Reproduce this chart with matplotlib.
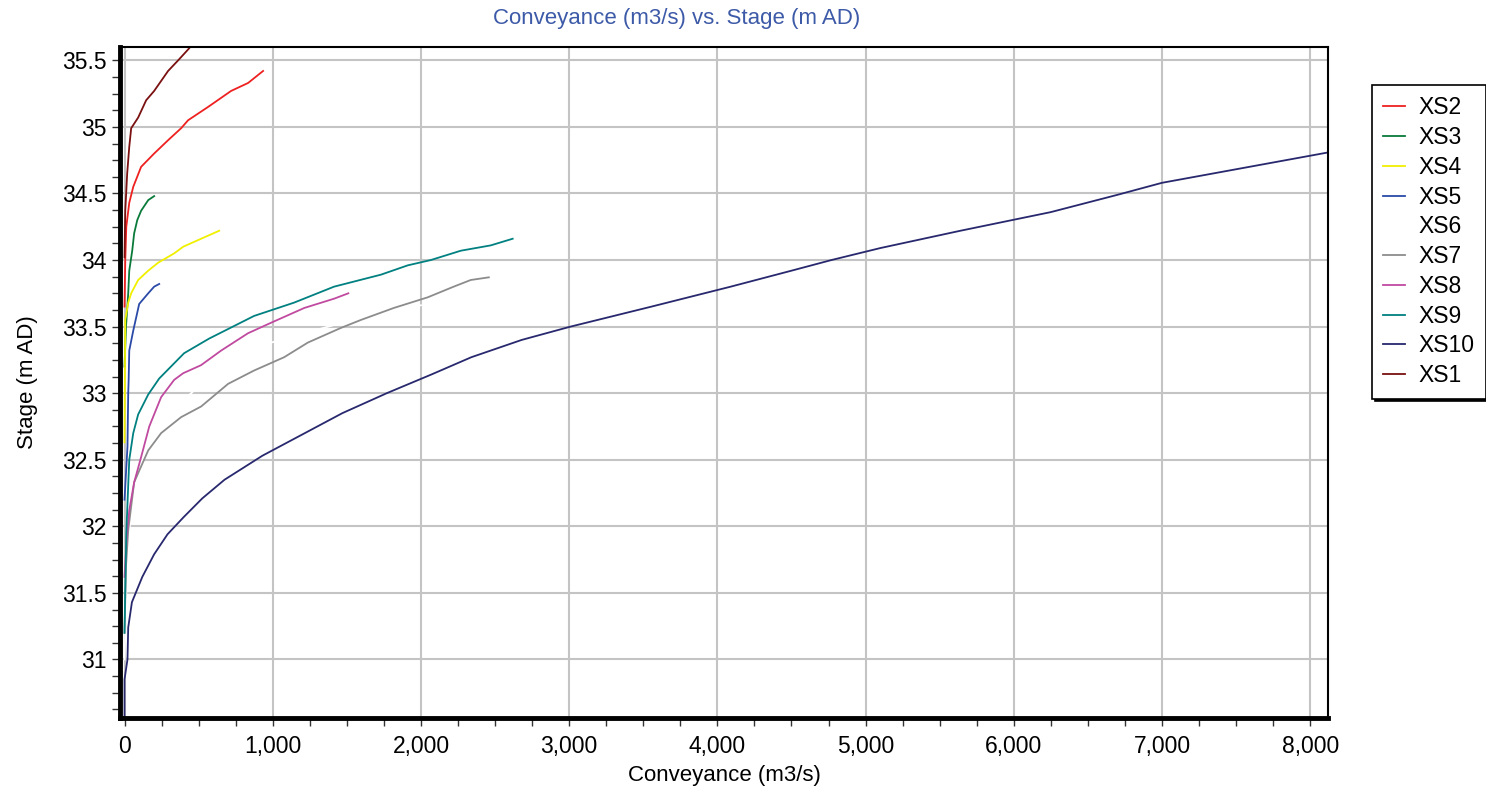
import matplotlib.pyplot as plt
from matplotlib.ticker import MultipleLocator, FuncFormatter

plt.rcParams['font.family'] = ['Liberation Sans', 'DejaVu Sans']

# conveyance (m3/s) and stage (m AD) per cross section
xs2_q = [0, 5, 12, 32, 59, 112, 200, 294, 382, 429, 564, 719, 834, 935]
xs2_h = [33.65, 34.0, 34.25, 34.43, 34.55, 34.7, 34.8, 34.9, 34.99, 35.05, 35.15, 35.27, 35.33, 35.42]

xs3_q = [0, 10, 25, 32, 52, 65, 86, 112, 160, 200]
xs3_h = [33.2, 33.5, 33.75, 33.92, 34.07, 34.2, 34.3, 34.37, 34.45, 34.48]

xs4_q = [0, 5, 25, 45, 92, 160, 227, 335, 396, 517, 639]
xs4_h = [32.63, 33.55, 33.68, 33.75, 33.85, 33.92, 33.98, 34.05, 34.1, 34.16, 34.22]

xs5_q = [0, 10, 20, 25, 28, 32, 59, 79, 99, 160, 200, 234]
xs5_h = [32.2, 32.4, 32.6, 33.0, 33.1, 33.32, 33.47, 33.57, 33.67, 33.75, 33.8, 33.82]

xs6_q = [0, 20, 60, 150, 300, 500, 750, 990, 1375, 1700, 2000]
xs6_h = [31.0, 31.8, 32.3, 32.6, 32.85, 33.05, 33.25, 33.38, 33.5, 33.6, 33.66]

xs7_q = [0, 10, 25, 45, 65, 112, 160, 247, 382, 517, 699, 874, 1077, 1237, 1460, 1595, 1817, 2046, 2221, 2336, 2458]
xs7_h = [31.2, 31.7, 31.97, 32.15, 32.33, 32.45, 32.57, 32.7, 32.82, 32.9, 33.07, 33.17, 33.27, 33.38, 33.49, 33.55, 33.64, 33.72, 33.8, 33.85, 33.87]

xs8_q = [0, 15, 32, 65, 112, 167, 247, 335, 396, 516, 652, 833, 991, 1213, 1415, 1510]
xs8_h = [31.62, 31.92, 32.12, 32.33, 32.52, 32.75, 32.97, 33.1, 33.15, 33.21, 33.32, 33.45, 33.53, 33.64, 33.71, 33.75]

xs9_q = [0, 12, 32, 59, 92, 160, 234, 402, 571, 874, 1144, 1414, 1730, 1911, 2067, 2269, 2471, 2619]
xs9_h = [31.2, 31.95, 32.5, 32.7, 32.84, 32.99, 33.11, 33.3, 33.41, 33.58, 33.68, 33.8, 33.89, 33.96, 34.0, 34.07, 34.11, 34.16]

xs10_q = [0, 0, 20, 25, 50, 120, 200, 290, 400, 525, 675, 930, 1200, 1470, 1770, 2070, 2340,
          2680, 3010, 3555, 4090, 4500, 4770, 5100, 5640, 6250, 6700, 7000, 8130]
xs10_h = [30.56, 30.85, 31.0, 31.24, 31.43, 31.62, 31.79, 31.94, 32.07, 32.21, 32.35, 32.53, 32.69, 32.85,
          33.0, 33.14, 33.27, 33.4, 33.5, 33.65, 33.8, 33.92, 34.0, 34.09, 34.22, 34.36, 34.49, 34.58, 34.81]

xs1_q = [0, 5, 18, 32, 45, 92, 146, 200, 294, 362, 436]
xs1_h = [34.02, 34.37, 34.65, 34.85, 34.99, 35.07, 35.2, 35.27, 35.42, 35.5, 35.59]

series = [
    ('XS2', xs2_q, xs2_h, '#ee2020'),
    ('XS3', xs3_q, xs3_h, '#0a7a3a'),
    ('XS4', xs4_q, xs4_h, '#f0f000'),
    ('XS5', xs5_q, xs5_h, '#2b4aa8'),
    ('XS6', xs6_q, xs6_h, '#ffffff'),
    ('XS7', xs7_q, xs7_h, '#8c8c8c'),
    ('XS8', xs8_q, xs8_h, '#c04aa0'),
    ('XS9', xs9_q, xs9_h, '#008080'),
    ('XS10', xs10_q, xs10_h, '#28286e'),
    ('XS1', xs1_q, xs1_h, '#7a1010'),
]

fig = plt.figure(figsize=(14.86, 7.94), dpi=100)
ax = fig.add_axes([0.0808, 0.0957, 0.8129, 0.8451])

for name, q, h, c in series:
    ax.plot(q, h, color=c, lw=1.3, label=name)

ax.set_xlim(-30, 8120)
ax.set_ylim(30.56, 35.6)
ax.xaxis.set_major_locator(MultipleLocator(1000))
ax.xaxis.set_minor_locator(MultipleLocator(250))
ax.yaxis.set_major_locator(MultipleLocator(0.5))
ax.yaxis.set_minor_locator(MultipleLocator(0.125))
ax.xaxis.set_major_formatter(FuncFormatter(lambda v, p: f'{v:,.0f}'))
ax.yaxis.set_major_formatter(FuncFormatter(lambda v, p: f'{v:g}'))
ax.grid(True, which='major', color='#c4c4c4', lw=1.5)
ax.set_axisbelow(True)
ax.tick_params(which='both', direction='out', length=6, width=1, colors='#333333',
               labelsize=16.5, labelcolor='black')
ax.tick_params(axis='x', pad=6)

ax.spines['left'].set_linewidth(3.5)
ax.spines['bottom'].set_linewidth(3.5)
ax.spines['top'].set_linewidth(1.5)
ax.spines['right'].set_linewidth(1.5)

ax.set_xlabel('Conveyance (m3/s)', fontsize=16, labelpad=5)
ax.set_ylabel('Stage (m AD)', fontsize=16, labelpad=17.5)
fig.text(0.4556, 0.977, 'Conveyance (m3/s) vs. Stage (m AD)', ha='center', va='center',
         fontsize=16, color='#3d5aa8')

leg = fig.legend(loc='upper left', bbox_to_anchor=(0.9233, 0.893), fontsize=16.5,
                 frameon=True, fancybox=False, edgecolor='black', framealpha=1,
                 shadow={'color': 'black', 'alpha': 1}, labelspacing=0.295,
                 handlelength=0.96, handletextpad=0.57, borderpad=0.5, borderaxespad=0)
leg.get_frame().set_linewidth(1.2)

fig.savefig('out.png', dpi=100)
